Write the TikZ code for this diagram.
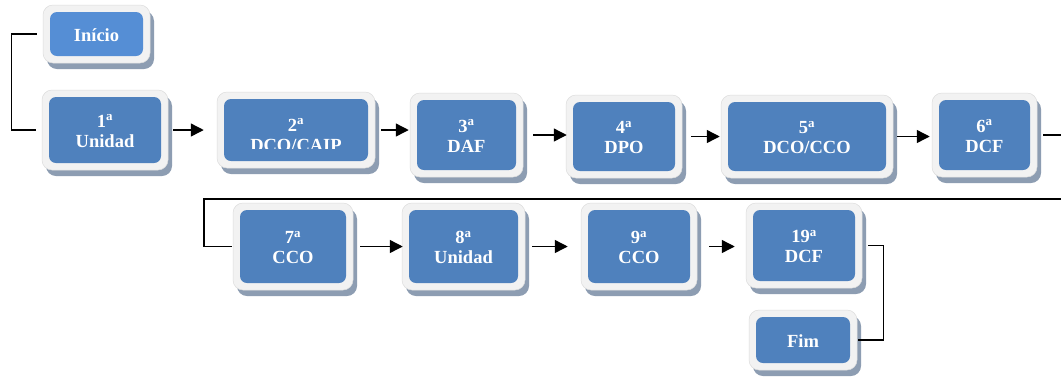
\documentclass[tikz,border=0pt]{standalone}
\usepackage{fontspec}
\setmainfont{Liberation Serif}
\usetikzlibrary{arrows.meta}

\definecolor{boxblue}{HTML}{4F81BD}
\definecolor{startblue}{HTML}{558ED5}
\definecolor{framefill}{HTML}{F2F2F2}
\definecolor{frameline}{HTML}{DDDDDD}
\definecolor{shadowfill}{HTML}{8D9DB2}

\tikzset{
  frame/.style={fill=framefill, draw=frameline, line width=0.5pt,
    rounded corners=10pt, inner sep=0pt},
  core/.style={fill=#1, draw=none, rounded corners=7pt, inner sep=0pt},
  core/.default=boxblue,
  shade/.style={fill=shadowfill, rounded corners=10pt},
  caption/.style={text=white, align=center, inner sep=0pt,
    font=\bfseries\fontsize{18.5}{20}\selectfont},
  link/.style={line width=1.4pt, black},
  flow/.style={link, -{Triangle[length=13pt,width=13pt]}},
}

% stage box: name, outer corners (x1,y1,x2,y2), inner colour, caption
\newcommand\stagebox[7]{%
  \fill[shade] ({#2+4},{#3+6}) rectangle ({#4+4},{#5+6});
  \node[frame, minimum width={#4-#2}, minimum height={#5-#3}]
    (#1) at ({(#2+#4)/2},{(#3+#5)/2}) {};
  \node[core=#6, minimum width={#4-#2-14}, minimum height={#5-#3-14}]
    at (#1.center) {};
  \node[caption] (#1-t) at ([yshift=-1]#1.center) {#7};
}

\begin{document}
\begin{tikzpicture}[x=1pt, y=-1pt]
\useasboundingbox[fill=white] (0,0) rectangle (1061,376);

% first row
\stagebox{start}{43}{5}{150}{63}{startblue}{Início}
\stagebox{b1}{42}{90}{168}{170}{boxblue}{1\textsuperscript{a}\\Unidad}
\stagebox{b2}{217}{92}{375}{168}{boxblue}{}
% the caption of the second stage is cut off at its lower edge
\begin{scope}
  \clip (217,90) rectangle (375,148);
  \node[caption] at ([yshift=-5]b2.center) {2\textsuperscript{a}\\DCO/CAIP};
\end{scope}
\stagebox{b3}{410}{93}{523}{177}{boxblue}{3\textsuperscript{a}\\DAF}
\stagebox{b4}{566}{95}{682}{178}{boxblue}{4\textsuperscript{a}\\DPO}
\stagebox{b5}{721}{95}{893}{178}{boxblue}{5\textsuperscript{a}\\DCO/CCO}
\stagebox{b6}{932}{93}{1037}{177}{boxblue}{6\textsuperscript{a}\\DCF}

% second row
\stagebox{b7}{233}{203}{353}{290}{boxblue}{7\textsuperscript{a}\\CCO}
\stagebox{b8}{402}{203}{525}{290}{boxblue}{8\textsuperscript{a}\\Unidad}
\stagebox{b9}{581}{203}{697}{290}{boxblue}{9\textsuperscript{a}\\CCO}
\stagebox{b19}{746}{203}{862}{288}{boxblue}{19\textsuperscript{a}\\DCF}
\stagebox{fim}{749}{310}{857}{370}{boxblue}{Fim}

% connectors
\draw[link] ([xshift=-6]start.west) -- ([xshift=-31]start.west)
  |- ([xshift=-6]b1.west);
\draw[flow] ([xshift=5]b1.east) -- ([xshift=-13]b1.east -| b2.west);
\draw[flow] ([xshift=6]b2.east) -- ([xshift=-1]b2.east -| b3.west);
\draw[flow] ([xshift=10]b3.east) -- ([xshift=1]b3.east -| b4.west);
\draw[flow] ([xshift=9]b4.east) -- ([xshift=-1]b4.east -| b5.west);
\draw[flow] ([xshift=4]b5.east) -- ([xshift=-2]b5.east -| b6.west);

\coordinate (wrapR) at (1080,199);
\coordinate (wrapL) at (204,199);
\begin{scope}
  \clip (0,0) rectangle (1061,376);
  \draw[link] ([xshift=6]b6.east) -| (wrapR) -- (wrapL)
    |- ([xshift=-1]b7.west);
\end{scope}

\draw[flow] ([xshift=7]b7.east) -- ([xshift=1]b7.east -| b8.west);
\draw[flow] ([xshift=7]b8.east) -- ([xshift=-13]b8.east -| b9.west);
\draw[flow] ([xshift=12]b9.east) -- ([xshift=-11]b9.east -| b19.west);
\draw[link] ([xshift=6]b19.east) -| ([xshift=26]fim.east)
  -- ([xshift=1]fim.east);
\end{tikzpicture}
\end{document}
